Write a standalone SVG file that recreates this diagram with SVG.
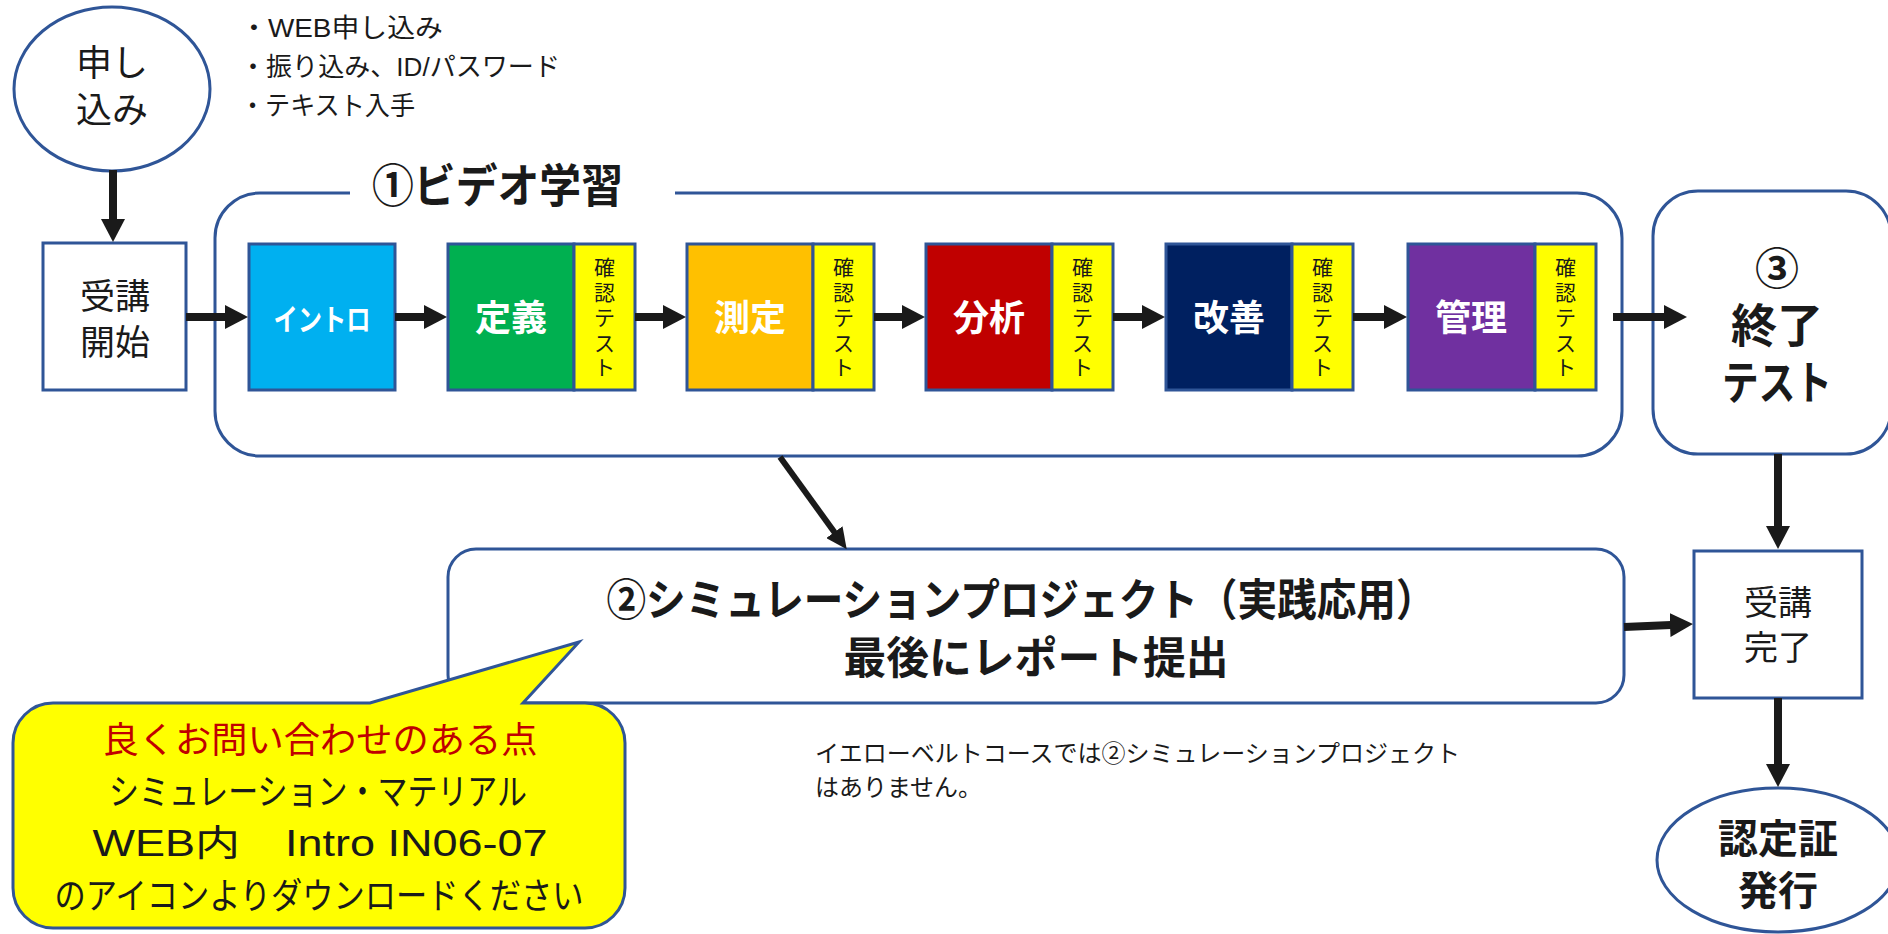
<svg xmlns="http://www.w3.org/2000/svg" width="1888" height="934" viewBox="0 0 1888 934">
<defs>
<style>
.t{font-family:'Liberation Sans','Noto Sans CJK JP',sans-serif;fill:#1a1a1a;}
.b{font-weight:700;}
.w{fill:#ffffff;}
.bx{stroke:#2F5597;stroke-width:3;}
.ol{fill:#ffffff;stroke:#2F5597;stroke-width:3;}
.yl{fill:#FFFF00;stroke:#2F5597;stroke-width:3;}
.cn{stroke:#1a1a1a;fill:none;}
</style>
<marker id="ah" markerUnits="userSpaceOnUse" markerWidth="24" markerHeight="24" refX="1" refY="12" orient="auto"><path d="M0,0 L23,12 L0,24 Z" fill="#1a1a1a"/></marker>
<marker id="ahs" markerUnits="userSpaceOnUse" markerWidth="22" markerHeight="20" refX="1" refY="10" orient="auto"><path d="M0,0 L21,10 L0,20 Z" fill="#1a1a1a"/></marker>
</defs>
<rect x="0" y="0" width="1888" height="934" fill="#ffffff"/>

<g id="n-apply">
<ellipse class="ol" cx="112" cy="89" rx="98" ry="82"/>
<text class="t" x="112" y="76" font-size="36" text-anchor="middle">申し</text>
<text class="t" x="112" y="123" font-size="36" text-anchor="middle">込み</text>
</g>

<g id="apply-notes">
<text class="t" x="240" y="37" font-size="26" textLength="203" lengthAdjust="spacingAndGlyphs">・WEB申し込み</text>
<text class="t" x="240" y="76" font-size="26" textLength="320" lengthAdjust="spacingAndGlyphs">・振り込み、ID/パスワード</text>
<text class="t" x="240" y="115" font-size="26" textLength="175" lengthAdjust="spacingAndGlyphs">・テキスト入手</text>
</g>

<g id="n-start">
<rect class="ol" x="43" y="243" width="143" height="147"/>
<text class="t" x="115" y="309" font-size="35" text-anchor="middle">受講</text>
<text class="t" x="115" y="355" font-size="35" text-anchor="middle">開始</text>
</g>

<g id="g-video">
<path class="cn" style="stroke:#2F5597;stroke-width:3" d="M350,193 L260,193 A45,45 0 0 0 215,238 L215,411 A45,45 0 0 0 260,456 L1577,456 A45,45 0 0 0 1622,411 L1622,238 A45,45 0 0 0 1577,193 L675,193"/>
<text class="t b" x="372" y="202" font-size="46" textLength="251" lengthAdjust="spacingAndGlyphs">①ビデオ学習</text>
</g>

<g id="n-intro">
<rect class="bx" x="249" y="244" width="146" height="146" fill="#00B0F0"/>
<text class="t b w" x="322" y="330" font-size="30" text-anchor="middle" textLength="97" lengthAdjust="spacingAndGlyphs">イントロ</text>
</g>

<g id="n-define">
<rect class="bx" x="448" y="244" width="126" height="146" fill="#00B050"/>
<rect class="yl" x="574" y="244" width="61" height="146"/>
<text class="t b w" x="511" y="331" font-size="36" text-anchor="middle">定義</text>
<text class="t" font-size="21" text-anchor="middle"><tspan x="604.5" y="275">確</tspan><tspan x="604.5" y="300">認</tspan><tspan x="604.5" y="325">テ</tspan><tspan x="604.5" y="351">ス</tspan><tspan x="604.5" y="375">ト</tspan></text>
</g>

<g id="n-measure">
<rect class="bx" x="687" y="244" width="126" height="146" fill="#FFC000"/>
<rect class="yl" x="813" y="244" width="61" height="146"/>
<text class="t b w" x="750" y="331" font-size="36" text-anchor="middle">測定</text>
<text class="t" font-size="21" text-anchor="middle"><tspan x="843.5" y="275">確</tspan><tspan x="843.5" y="300">認</tspan><tspan x="843.5" y="325">テ</tspan><tspan x="843.5" y="351">ス</tspan><tspan x="843.5" y="375">ト</tspan></text>
</g>

<g id="n-analyze">
<rect class="bx" x="926" y="244" width="126" height="146" fill="#C00000"/>
<rect class="yl" x="1052" y="244" width="61" height="146"/>
<text class="t b w" x="989" y="331" font-size="36" text-anchor="middle">分析</text>
<text class="t" font-size="21" text-anchor="middle"><tspan x="1082.5" y="275">確</tspan><tspan x="1082.5" y="300">認</tspan><tspan x="1082.5" y="325">テ</tspan><tspan x="1082.5" y="351">ス</tspan><tspan x="1082.5" y="375">ト</tspan></text>
</g>

<g id="n-improve">
<rect class="bx" x="1166" y="244" width="126" height="146" fill="#002060"/>
<rect class="yl" x="1292" y="244" width="61" height="146"/>
<text class="t b w" x="1229" y="331" font-size="36" text-anchor="middle">改善</text>
<text class="t" font-size="21" text-anchor="middle"><tspan x="1322.5" y="275">確</tspan><tspan x="1322.5" y="300">認</tspan><tspan x="1322.5" y="325">テ</tspan><tspan x="1322.5" y="351">ス</tspan><tspan x="1322.5" y="375">ト</tspan></text>
</g>

<g id="n-control">
<rect class="bx" x="1408" y="244" width="127" height="146" fill="#7030A0"/>
<rect class="yl" x="1535" y="244" width="61" height="146"/>
<text class="t b w" x="1471" y="331" font-size="36" text-anchor="middle">管理</text>
<text class="t" font-size="21" text-anchor="middle"><tspan x="1565.5" y="275">確</tspan><tspan x="1565.5" y="300">認</tspan><tspan x="1565.5" y="325">テ</tspan><tspan x="1565.5" y="351">ス</tspan><tspan x="1565.5" y="375">ト</tspan></text>
</g>

<g id="n-final">
<rect class="ol" x="1653" y="191" width="238" height="263" rx="45"/>
<text class="t b" x="1777" y="285" font-size="44" text-anchor="middle">③</text>
<text class="t b" x="1777" y="342" font-size="46" text-anchor="middle">終了</text>
<text class="t b" x="1777" y="399" font-size="46" text-anchor="middle" textLength="110" lengthAdjust="spacingAndGlyphs">テスト</text>
</g>

<g id="n-sim">
<rect class="ol" x="448" y="549" width="1176" height="154" rx="28"/>
<text class="t b" x="1021" y="616" font-size="44" text-anchor="middle" textLength="829" lengthAdjust="spacingAndGlyphs">②シミュレーションプロジェクト（実践応用）</text>
<text class="t b" x="1036" y="674" font-size="44" text-anchor="middle" textLength="385" lengthAdjust="spacingAndGlyphs">最後にレポート提出</text>
</g>

<g id="n-complete">
<rect class="ol" x="1694" y="551" width="168" height="147"/>
<text class="t" x="1778" y="615" font-size="34" text-anchor="middle">受講</text>
<text class="t" x="1778" y="660" font-size="34" text-anchor="middle">完了</text>
</g>

<g id="n-cert">
<ellipse class="ol" cx="1778" cy="860" rx="121" ry="72"/>
<text class="t b" x="1778" y="853" font-size="40" text-anchor="middle">認定証</text>
<text class="t b" x="1778" y="905" font-size="40" text-anchor="middle">発行</text>
</g>

<g id="callout">
<path d="M53,703 L370,703 L579,642 L523,703 L585,703 A40,40 0 0 1 625,743 L625,888 A40,40 0 0 1 585,928 L53,928 A40,40 0 0 1 13,888 L13,743 A40,40 0 0 1 53,703 Z" fill="#FFFF00" stroke="#2F5597" stroke-width="3"/>
<text class="t" x="320" y="753" font-size="36" text-anchor="middle" style="fill:#C00000" textLength="435" lengthAdjust="spacingAndGlyphs">良くお問い合わせのある点</text>
<text class="t" x="318" y="805" font-size="36" text-anchor="middle" textLength="418" lengthAdjust="spacingAndGlyphs">シミュレーション・マテリアル</text>
<text class="t" x="320" y="856" font-size="36" text-anchor="middle" textLength="455" lengthAdjust="spacingAndGlyphs">WEB内　Intro IN06-07</text>
<text class="t" x="319" y="909" font-size="36" text-anchor="middle" textLength="529" lengthAdjust="spacingAndGlyphs">のアイコンよりダウンロードください</text>
</g>

<g id="note">
<text class="t" x="815" y="762" font-size="24" textLength="645" lengthAdjust="spacingAndGlyphs">イエローベルトコースでは②シミュレーションプロジェクト</text>
<text class="t" x="815" y="796" font-size="24" textLength="167" lengthAdjust="spacingAndGlyphs">はありません。</text>
</g>

<g id="connectors">
<line class="cn" stroke-width="8" x1="113" y1="170" x2="113" y2="220" marker-end="url(#ah)"/>
<line class="cn" stroke-width="8" x1="186" y1="317" x2="226" y2="317" marker-end="url(#ah)"/>
<line class="cn" stroke-width="8" x1="395" y1="317" x2="425" y2="317" marker-end="url(#ah)"/>
<line class="cn" stroke-width="8" x1="635" y1="317" x2="664" y2="317" marker-end="url(#ah)"/>
<line class="cn" stroke-width="8" x1="874" y1="317" x2="903" y2="317" marker-end="url(#ah)"/>
<line class="cn" stroke-width="8" x1="1113" y1="317" x2="1143" y2="317" marker-end="url(#ah)"/>
<line class="cn" stroke-width="8" x1="1353" y1="317" x2="1385" y2="317" marker-end="url(#ah)"/>
<line class="cn" stroke-width="8" x1="1613" y1="317" x2="1665" y2="317" marker-end="url(#ah)"/>
<line class="cn" stroke-width="6" x1="780" y1="457" x2="835" y2="533" marker-end="url(#ahs)"/>
<line class="cn" stroke-width="8" x1="1778" y1="454" x2="1778" y2="527" marker-end="url(#ah)"/>
<line class="cn" stroke-width="8" x1="1624" y1="627" x2="1671" y2="625" marker-end="url(#ah)"/>
<line class="cn" stroke-width="8" x1="1778" y1="698" x2="1778" y2="765" marker-end="url(#ah)"/>
</g>
</svg>
